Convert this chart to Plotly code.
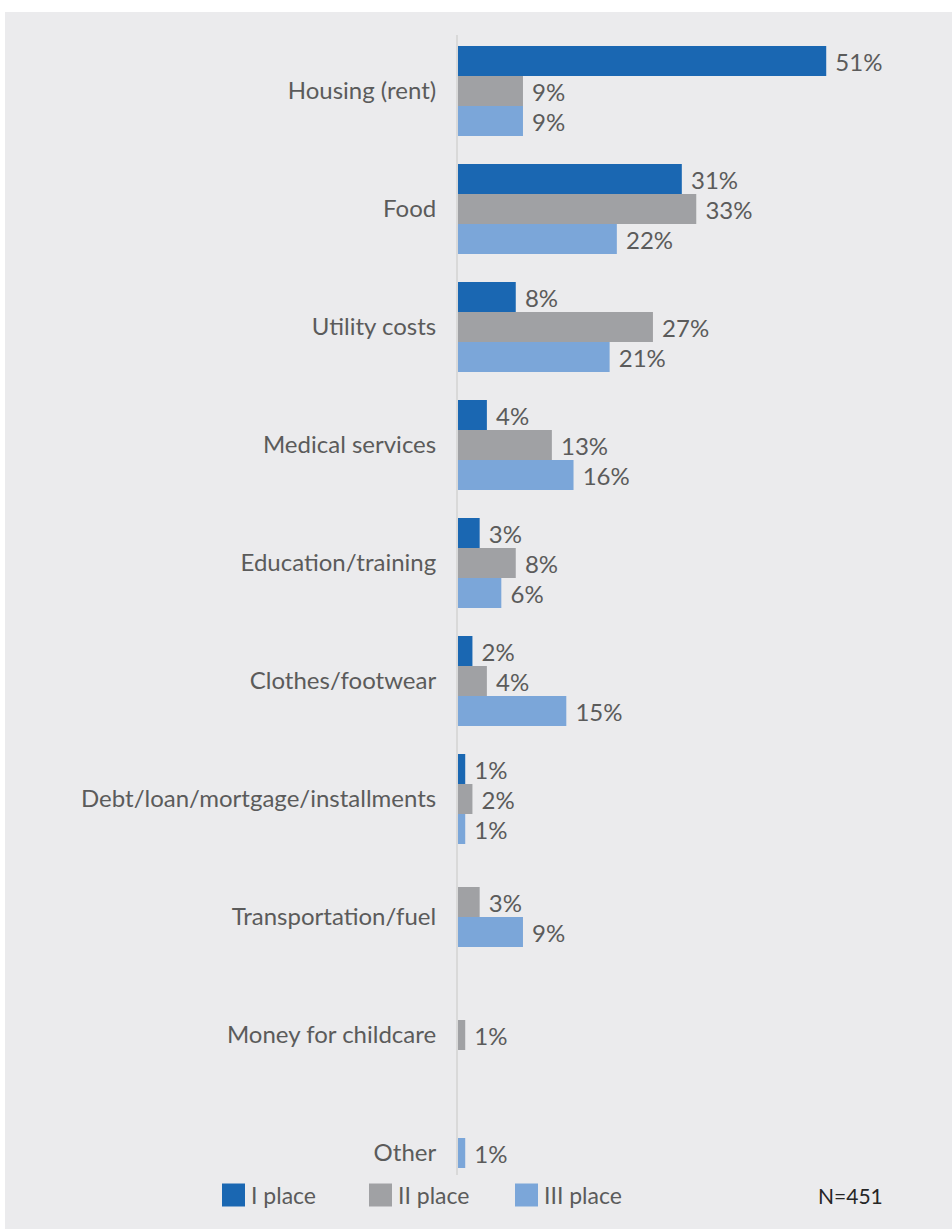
import plotly.graph_objects as go

# ---- data -------------------------------------------------------------
categories = [
    "Housing (rent)",
    "Food",
    "Utility costs",
    "Medical services",
    "Education/training",
    "Clothes/footwear",
    "Debt/loan/mortgage/installments",
    "Transportation/fuel",
    "Money for childcare",
    "Other",
]
series_names = ["I place", "II place", "III place"]
first_place = [51, 31, 8, 4, 3, 2, 1, 0, 0, 0]
second_place = [9, 33, 27, 13, 8, 4, 2, 3, 1, 0]
third_place = [9, 22, 21, 16, 6, 15, 1, 9, 0, 1]
sample_note = "N=451"

# ---- styling ------------------------------------------------------------
colors = ["#1A67B2", "#A0A1A4", "#7BA6D9"]
bg_gray = "#EBEBED"
text_gray = "#5B5B5B"
font_family = "Lato, 'Open Sans', sans-serif"

W, H = 952, 1229
L, R, T, B = 458, 63, 35, 54
PW, PH = W - L - R, H - T - B

row_px = 118.0           # vertical room of one category row
bar_px = 30.0            # thickness of one bar
bar_w = bar_px / row_px  # in category units
first_center_px = 91.0

y_top = -(first_center_px - T) / row_px
y_bottom = y_top + PH / row_px
x_max = PW / 7.22


def px_x(px):
    return (px - L) / PW


def px_y(py):
    return (H - B - py) / PH


series = [first_place, second_place, third_place]

fig = go.Figure()
for s_idx, (name, vals, col) in enumerate(zip(series_names, series, colors)):
    xs, ys = [], []
    for i in range(len(categories)):
        # only non-zero bars are drawn; they are centred on their category
        present = [k for k in range(len(series)) if series[k][i] > 0]
        if vals[i] > 0:
            j = present.index(s_idx)
            ys.append(i + (j - (len(present) - 1) / 2) * bar_w)
            xs.append(vals[i])
    fig.add_trace(
        go.Bar(
            x=xs,
            y=ys,
            orientation="h",
            width=bar_w,
            name=name,
            marker=dict(color=col, line=dict(width=0)),
            text=[f"\u00a0{v}%" for v in xs],
            textposition="outside",
            constraintext="none",
            cliponaxis=False,
            textfont=dict(family=font_family, size=24, color=text_gray),
            showlegend=False,
            hoverinfo="skip",
        )
    )

shapes = [
    # grey panel behind the chart
    dict(
        type="rect", xref="paper", yref="paper", layer="below",
        x0=px_x(5), x1=px_x(W + 2), y0=px_y(H + 2), y1=px_y(12),
        fillcolor=bg_gray, line=dict(width=0),
    )
]
annotations = []

# legend row
legend_x = [222, 369, 515]
sq = 23
legend_cy = 1195
for name, col, lx in zip(series_names, colors, legend_x):
    shapes.append(
        dict(
            type="rect", xref="paper", yref="paper",
            x0=px_x(lx), x1=px_x(lx + sq),
            y0=px_y(legend_cy + sq / 2), y1=px_y(legend_cy - sq / 2),
            fillcolor=col, line=dict(width=0),
        )
    )
    annotations.append(
        dict(
            xref="paper", yref="paper", x=px_x(lx + sq + 4), y=px_y(legend_cy),
            xanchor="left", yanchor="middle", showarrow=False, text=name,
            font=dict(family=font_family, size=23, color=text_gray),
        )
    )

annotations.append(
    dict(
        xref="paper", yref="paper", x=px_x(850), y=px_y(legend_cy),
        xanchor="center", yanchor="middle", showarrow=False, text=sample_note,
        font=dict(family=font_family, size=21, color="#262626"),
    )
)

fig.update_layout(
    width=W,
    height=H,
    margin=dict(l=L, r=R, t=T, b=B, pad=0),
    paper_bgcolor="white",
    plot_bgcolor="rgba(0,0,0,0)",
    barmode="overlay",
    showlegend=False,
    shapes=shapes,
    annotations=annotations,
    xaxis=dict(
        range=[0, x_max], visible=False, fixedrange=True,
    ),
    yaxis=dict(
        range=[y_bottom, y_top],
        tickmode="array",
        tickvals=list(range(len(categories))),
        ticktext=categories,
        ticks="",
        ticklabelstandoff=15,
        showgrid=False,
        zeroline=False,
        showline=True,
        linecolor="#D9D9D9",
        linewidth=2,
        tickfont=dict(family=font_family, size=24, color=text_gray),
        fixedrange=True,
    ),
)

fig.write_html("out.html")
